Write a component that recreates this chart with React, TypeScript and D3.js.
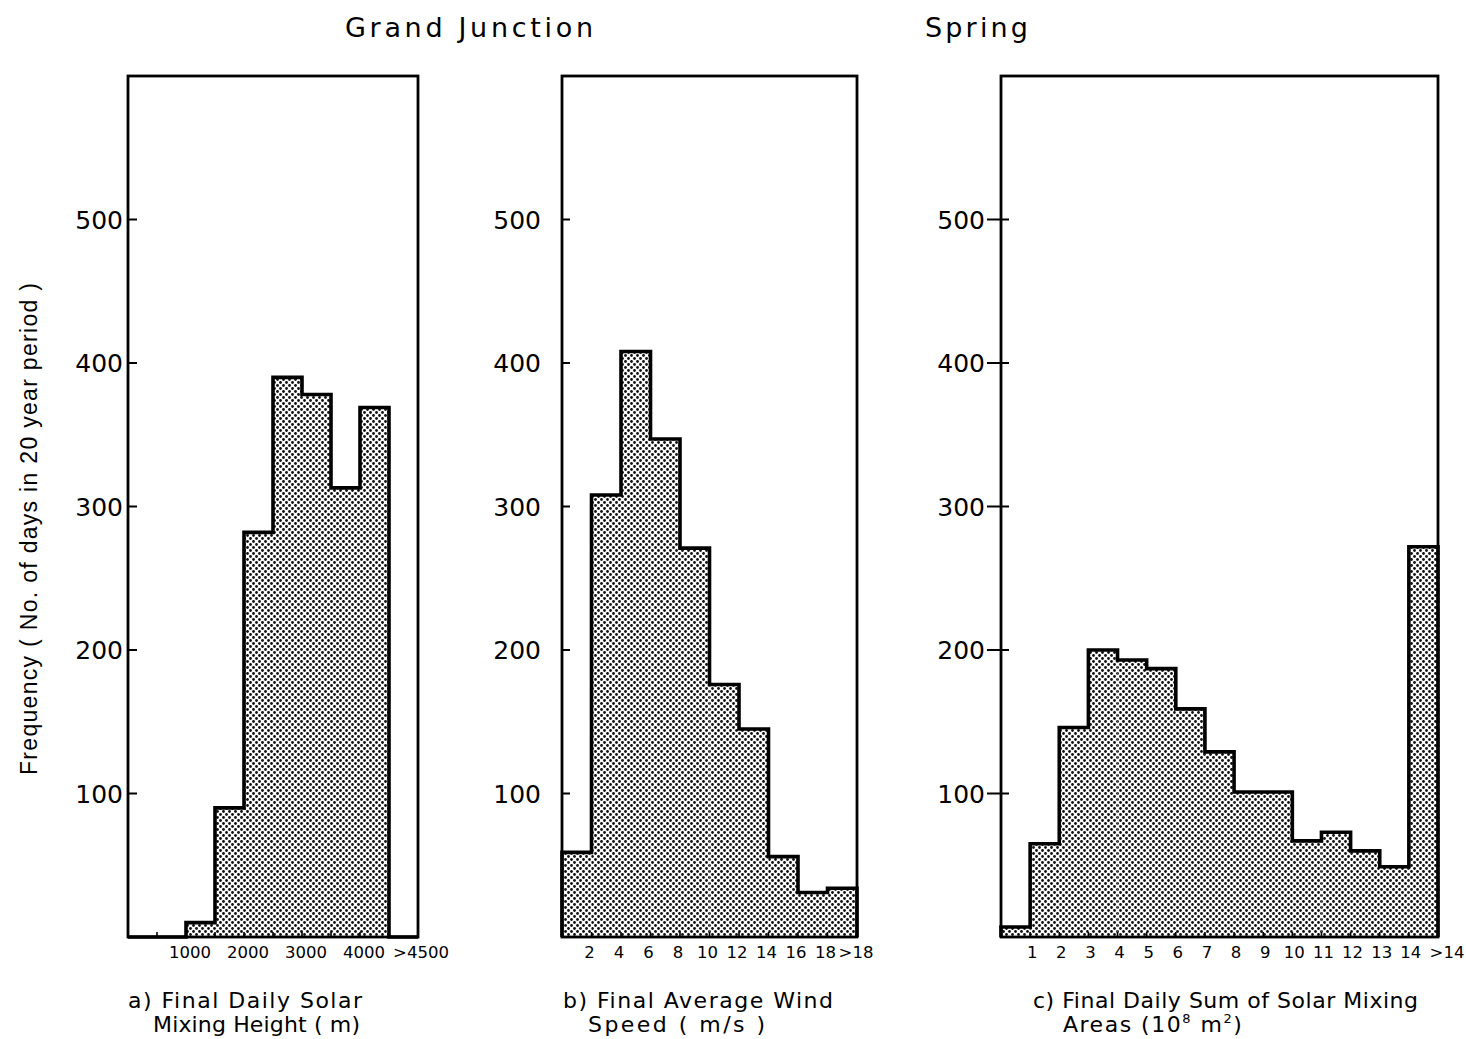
import React from "react";
import * as d3 from "d3";

// Frequency histograms, Grand Junction, spring (20-year record)
const heightBins = ["0-500", "500-1000", "1000-1500", "1500-2000", "2000-2500", "2500-3000", "3000-3500", "3500-4000", "4000-4500", ">4500"];
const heightCounts = [0, 0, 10, 90, 282, 390, 378, 313, 369, 0];
const heightTickLabels = ["1000", "2000", "3000", "4000", ">4500"];
const heightTickEdges = [2, 4, 6, 8, 10];

const windBins = ["0-2", "2-4", "4-6", "6-8", "8-10", "10-12", "12-14", "14-16", "16-18", ">18"];
const windCounts = [59, 308, 408, 347, 271, 176, 145, 56, 31, 34];
const windTickLabels = ["2", "4", "6", "8", "10", "12", "14", "16", "18", ">18"];
const windTickEdges = [1, 2, 3, 4, 5, 6, 7, 8, 9, 10];

const areaBins = ["0-1", "1-2", "2-3", "3-4", "4-5", "5-6", "6-7", "7-8", "8-9", "9-10", "10-11", "11-12", "12-13", "13-14", ">14"];
const areaCounts = [7, 65, 146, 200, 193, 187, 159, 129, 101, 101, 67, 73, 60, 49, 272];
const areaTickLabels = ["1", "2", "3", "4", "5", "6", "7", "8", "9", "10", "11", "12", "13", "14", ">14"];
const areaTickEdges = [1, 2, 3, 4, 5, 6, 7, 8, 9, 10, 11, 12, 13, 14, 15];

const freqTicks = [100, 200, 300, 400, 500];

const FONT = "'DejaVu Sans', sans-serif";

type PanelProps = {
  id: string;
  left: number;
  right: number;
  bins: string[];
  counts: number[];
  tickLabels: string[];
  tickEdges: number[];
  labelShift: number;
  lastLabelShift: number;
  yLabelGap: number;
  yTickOut: number;
  yTickIn: number;
};

const TOP = 76;
const BOTTOM = 937;
const y = d3.scaleLinear().domain([0, 600]).range([BOTTOM, TOP]);

function Panel(p: PanelProps) {
  const n = p.bins.length;
  const x = d3.scaleLinear().domain([0, n]).range([p.left, p.right]);
  const pts: [number, number][] = [[x(0), y(0)]];
  p.counts.forEach((c, i) => {
    pts.push([x(i), y(c)]);
    pts.push([x(i + 1), y(c)]);
  });
  pts.push([x(n), y(0)]);
  const outline = d3.line()(pts) || "";
  return (
    <g>
      {p.counts.map((c, i) => (
        <rect key={p.bins[i]} x={x(i)} y={y(c)} width={x(i + 1) - x(i)} height={y(0) - y(c)} fill="url(#dots)" />
      ))}
      <path d={outline} fill="none" stroke="#000" strokeWidth={3.6} strokeLinejoin="miter" />
      {d3.range(1, n).map((e) => (
        <line key={e} x1={x(e)} x2={x(e)} y1={BOTTOM} y2={BOTTOM - 5} stroke="#000" strokeWidth={1.6} />
      ))}
      {freqTicks.map((t) => (
        <g key={t}>
          <line x1={p.left - p.yTickOut} x2={p.left + p.yTickIn} y1={y(t)} y2={y(t)} stroke="#000" strokeWidth={2} />
          <text x={p.left - p.yLabelGap} y={y(t) + 9} textAnchor="end" fontSize={25} fontFamily={FONT} fill="#000">
            {t}
          </text>
        </g>
      ))}
      {p.tickLabels.map((l, i) => (
        <text
          key={l}
          x={x(p.tickEdges[i]) + (i === p.tickLabels.length - 1 ? p.lastLabelShift : p.labelShift)}
          y={958}
          textAnchor="middle"
          fontSize={16.5}
          fontFamily={FONT}
          fill="#000"
        >
          {l}
        </text>
      ))}
      <rect x={p.left} y={TOP} width={p.right - p.left} height={BOTTOM - TOP} fill="none" stroke="#000" strokeWidth={2.8} />
    </g>
  );
}

export default function App() {
  return (
    <div style={{ position: "absolute", left: 0, top: 0 }}>
      <svg width={1466} height={1039} viewBox="0 0 1466 1039" style={{ display: "block", background: "#fff" }}>
        <defs>
          <pattern id="dots" width={6} height={6} patternUnits="userSpaceOnUse">
            <rect width={6} height={6} fill="#fff" />
            <circle cx={1.5} cy={1.5} r={1.4} fill="#111" />
            <circle cx={4.5} cy={4.5} r={1.4} fill="#111" />
          </pattern>
        </defs>

        <text x={345} y={37} fontSize={27} fontFamily={FONT} textLength={248} lengthAdjust="spacing">Grand  Junction</text>
        <text x={925} y={37} fontSize={27} fontFamily={FONT} textLength={103} lengthAdjust="spacing">Spring</text>

        <text
          transform="translate(37,529) rotate(-90)"
          textAnchor="middle"
          fontSize={23}
          fontFamily="'Liberation Sans', Arial, sans-serif"
          textLength={492}
          lengthAdjust="spacing"
        >
          Frequency ( No. of days in 20 year period )
        </text>

        <Panel id="a" left={128} right={418} bins={heightBins} counts={heightCounts} tickLabels={heightTickLabels} tickEdges={heightTickEdges} labelShift={4} lastLabelShift={3} yLabelGap={5} yTickOut={0} yTickIn={9} />
        <Panel id="b" left={562} right={857} bins={windBins} counts={windCounts} tickLabels={windTickLabels} tickEdges={windTickEdges} labelShift={-2} lastLabelShift={-1} yLabelGap={21} yTickOut={0} yTickIn={8} />
        <Panel id="c" left={1001} right={1438} bins={areaBins} counts={areaCounts} tickLabels={areaTickLabels} tickEdges={areaTickEdges} labelShift={2} lastLabelShift={9} yLabelGap={16} yTickOut={14} yTickIn={8} />

        <text x={128} y={1008} fontSize={22} fontFamily={FONT} textLength={234} lengthAdjust="spacing">a) Final Daily Solar</text>
        <text x={153} y={1032} fontSize={22} fontFamily={FONT} textLength={207} lengthAdjust="spacing">Mixing Height ( m)</text>

        <text x={563} y={1008} fontSize={22} fontFamily={FONT} textLength={270} lengthAdjust="spacing">b) Final Average Wind</text>
        <text x={588} y={1032} fontSize={22} fontFamily={FONT} textLength={177} lengthAdjust="spacing">Speed  ( m/s )</text>

        <text x={1033} y={1008} fontSize={22} fontFamily={FONT} textLength={385} lengthAdjust="spacing">c) Final Daily Sum of Solar Mixing</text>
        <text x={1063} y={1032} fontSize={22} fontFamily={FONT} letterSpacing={1.5}>
          Areas  (10<tspan fontSize={13} dy={-9}>8</tspan><tspan dy={9}>  m</tspan><tspan fontSize={13} dy={-9}>2</tspan><tspan dy={9}>)</tspan>
        </text>
      </svg>
    </div>
  );
}
